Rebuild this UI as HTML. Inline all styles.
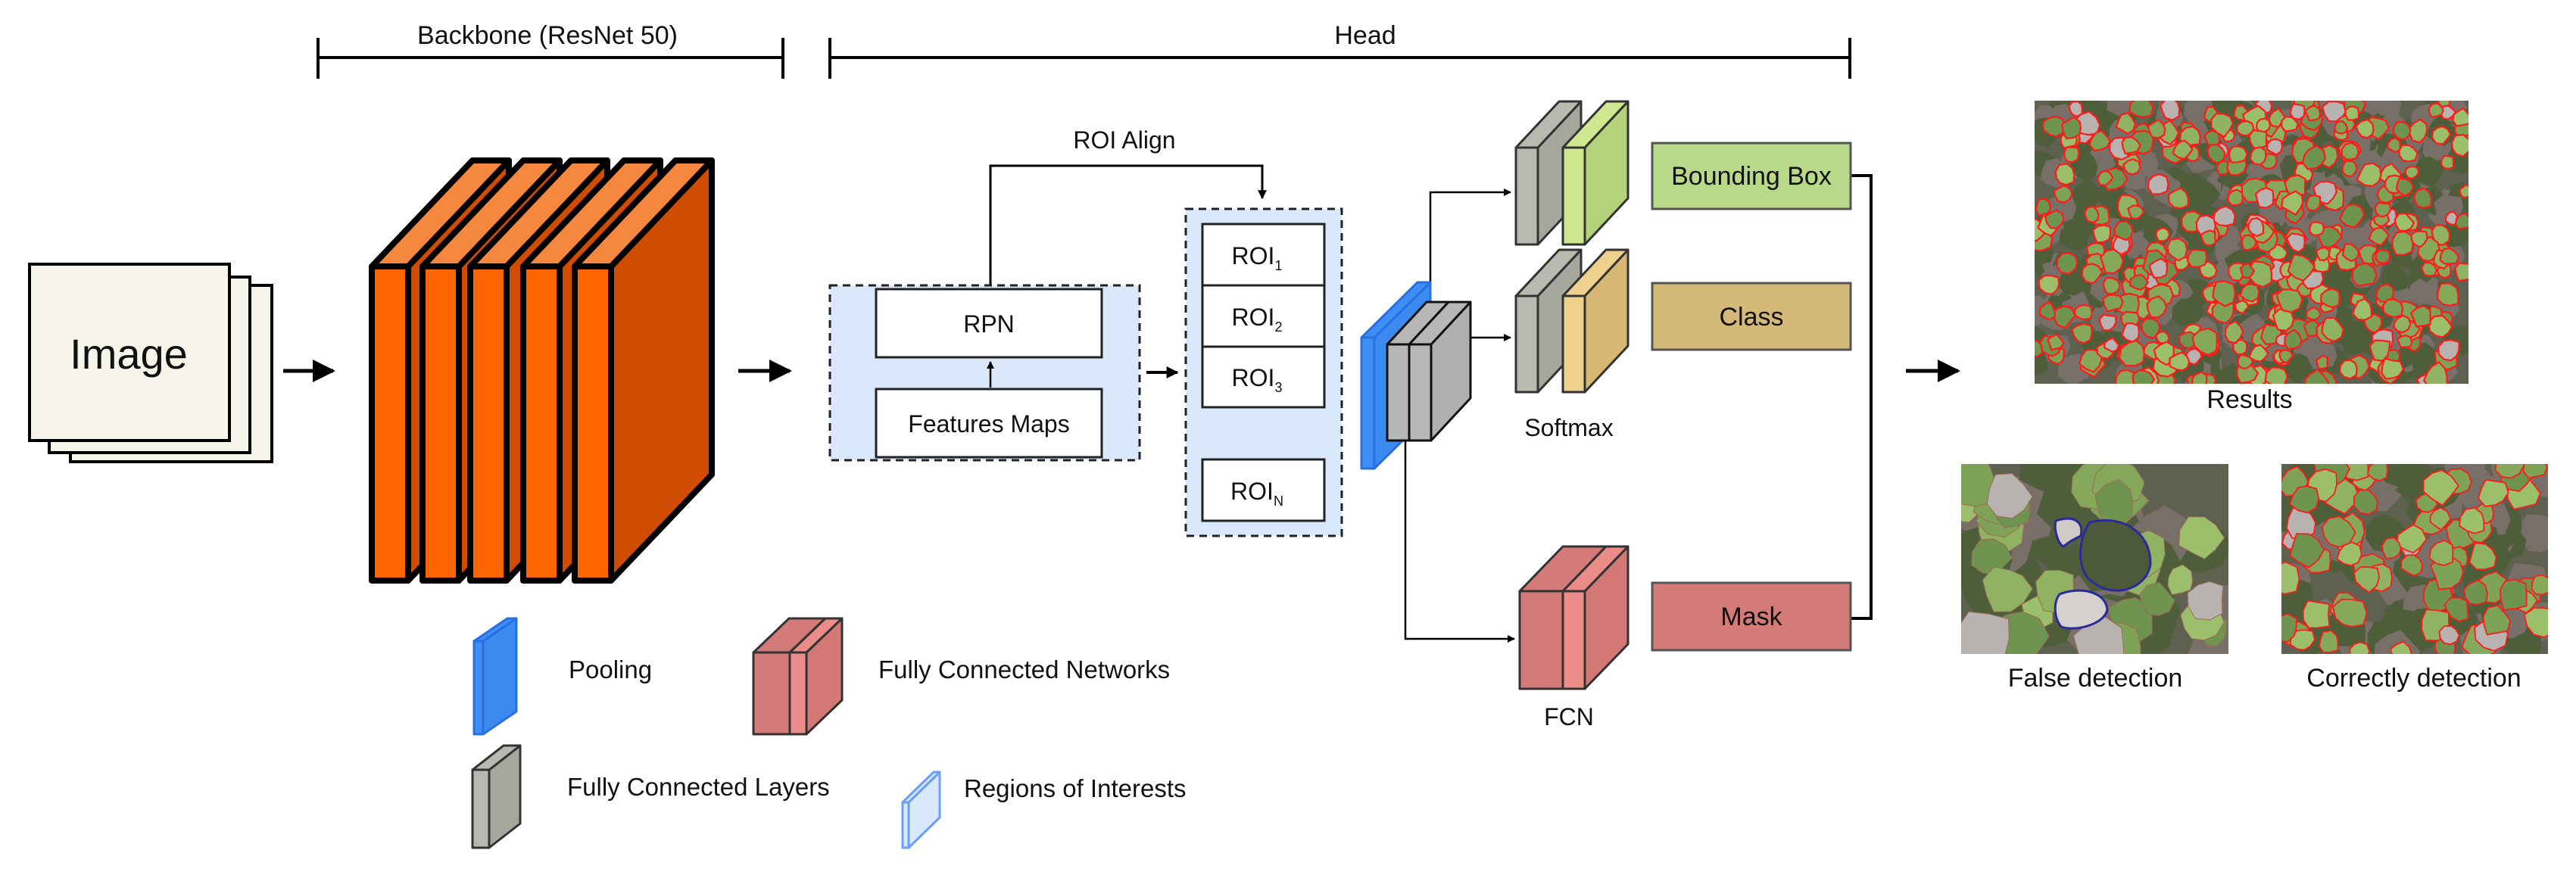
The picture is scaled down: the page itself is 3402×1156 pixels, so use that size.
<!DOCTYPE html>
<html><head><meta charset="utf-8"><style>
html,body{margin:0;padding:0;background:#fff;}
svg{display:block;}
text{font-family:"Liberation Sans",Arial,sans-serif;fill:#111;}
</style></head><body>
<svg id="s" width="3402" height="1156" viewBox="0 0 3402 1156" xmlns="http://www.w3.org/2000/svg">
<defs>
<marker id="ah" viewBox="0 0 10 10" refX="9" refY="5" markerWidth="4" markerHeight="4" orient="auto"><path d="M0,0 L10,5 L0,10 z" fill="#000"/></marker>
<marker id="as" viewBox="0 0 10 10" refX="9" refY="5" markerWidth="6" markerHeight="6" orient="auto"><path d="M0,0 L10,5 L0,10 z" fill="#000"/></marker>
<clipPath id="c1"><rect x="2687" y="133" width="573" height="374"/></clipPath>
<clipPath id="c2"><rect x="2590" y="613" width="353" height="251"/></clipPath>
<clipPath id="c3"><rect x="3013" y="613" width="352" height="251"/></clipPath>
</defs>

<g stroke="#000" stroke-width="4">
<line x1="420" y1="76" x2="1034" y2="76"/><line x1="420" y1="50" x2="420" y2="104"/><line x1="1034" y1="50" x2="1034" y2="104"/>
<line x1="1096" y1="76" x2="2443" y2="76"/><line x1="1096" y1="50" x2="1096" y2="104"/><line x1="2443" y1="50" x2="2443" y2="104"/>
</g>
<text x="723" y="58" font-size="34" text-anchor="middle">Backbone (ResNet 50)</text>
<text x="1803" y="58" font-size="34" text-anchor="middle">Head</text>

<g stroke="#000" stroke-width="4" fill="#f7f4ea">
<rect x="93" y="377" width="266" height="233"/>
<rect x="65" y="366" width="265" height="232"/>
<rect x="39" y="349" width="264" height="233"/>
</g>
<text x="170" y="487" font-size="56" text-anchor="middle">Image</text>

<g stroke="#000" stroke-width="5">
<line x1="374" y1="490" x2="440" y2="490" marker-end="url(#as)"/>
<line x1="975" y1="490" x2="1043" y2="490" marker-end="url(#as)"/>
<line x1="2517" y1="490" x2="2586" y2="490" marker-end="url(#as)"/>
</g>

<g id="orange" stroke="#000" stroke-width="8" stroke-linejoin="round"></g>

<rect x="1096" y="377" width="409" height="231" fill="#dae8fc" stroke="#222" stroke-width="3" stroke-dasharray="10,7"/>
<rect x="1157" y="382" width="298" height="90" fill="#fff" stroke="#222" stroke-width="3"/>
<rect x="1157" y="514" width="298" height="90" fill="#fff" stroke="#222" stroke-width="3"/>
<text x="1306" y="439" font-size="32" text-anchor="middle">RPN</text>
<text x="1306" y="571" font-size="32" text-anchor="middle">Features Maps</text>
<line x1="1308" y1="512" x2="1308" y2="478" stroke="#000" stroke-width="2.5" marker-end="url(#ah)"/>
<line x1="1514" y1="492" x2="1555" y2="492" stroke="#000" stroke-width="4" marker-end="url(#ah)"/>
<polyline points="1308,376 1308,219 1667,219 1667,262" fill="none" stroke="#000" stroke-width="3" marker-end="url(#ah)"/>
<text x="1485" y="196" font-size="32" text-anchor="middle">ROI Align</text>

<rect x="1566" y="276" width="206" height="432" fill="#dae8fc" stroke="#222" stroke-width="3" stroke-dasharray="10,7"/>
<g fill="#fff" stroke="#222" stroke-width="3">
<rect x="1588" y="296" width="161" height="242"/>
<line x1="1588" y1="377" x2="1749" y2="377"/><line x1="1588" y1="458" x2="1749" y2="458"/>
<rect x="1588" y="607" width="161" height="81"/>
</g>
<g font-size="32" text-anchor="middle">
<text x="1660" y="349">ROI<tspan font-size="18" dy="8">1</tspan></text>
<text x="1660" y="430">ROI<tspan font-size="18" dy="8">2</tspan></text>
<text x="1660" y="510">ROI<tspan font-size="18" dy="8">3</tspan></text>
<text x="1660" y="660">ROI<tspan font-size="18" dy="8">N</tspan></text>
</g>

<g stroke="#000" stroke-width="2.5" fill="none">
<polyline points="1889,372 1889,254 1995,254" marker-end="url(#ah)"/>
<line x1="1942" y1="446" x2="1995" y2="446" marker-end="url(#ah)"/>
<polyline points="1856,582 1856,844 2000,844" marker-end="url(#ah)"/>
<polyline points="2444,232 2471,232 2471,817 2444,817" stroke-width="4"/>
</g>

<g id="blocks"></g>

<rect x="2182" y="189" width="262" height="87" fill="#b9d98a" stroke="#555" stroke-width="3"/>
<rect x="2182" y="374" width="262" height="88" fill="#d5b978" stroke="#555" stroke-width="3"/>
<rect x="2182" y="770" width="262" height="89" fill="#d47a78" stroke="#555" stroke-width="3"/>
<g font-size="34" text-anchor="middle">
<text x="2313" y="244">Bounding Box</text>
<text x="2313" y="430">Class</text>
<text x="2313" y="826">Mask</text>
<text x="2072" y="576" font-size="32">Softmax</text>
<text x="2072" y="958" font-size="32">FCN</text>
</g>

<g font-size="33">
<text x="751" y="896">Pooling</text>
<text x="1160" y="896">Fully Connected Networks</text>
<text x="749" y="1051">Fully Connected Layers</text>
<text x="1273" y="1053">Regions of Interests</text>
</g>

<g clip-path="url(#c1)" id="p1"></g>
<g clip-path="url(#c2)" id="p2"></g>
<g clip-path="url(#c3)" id="p3"></g>
<g font-size="34" text-anchor="middle">
<text x="2971" y="539">Results</text>
<text x="2767" y="907">False detection</text>
<text x="3188" y="907">Correctly detection</text>
</g>
</svg>
<script>
var NS="http://www.w3.org/2000/svg";
function el(p,t,a){var e=document.createElementNS(NS,t);for(var k in a)e.setAttribute(k,a[k]);p.appendChild(e);return e;}
function slab(g,x,y,w,h,dx,dy,cf,ct,cs,st,sw){
 var o={stroke:st,"stroke-width":sw,"stroke-linejoin":"round"};
 function pg(pts,c){var a=Object.assign({points:pts,fill:c},o);el(g,"polygon",a);}
 pg([x+w,y,x+w+dx,y-dy,x+w+dx,y+h-dy,x+w,y+h].join(","),cs);
 pg([x,y,x+w,y,x+w+dx,y-dy,x+dx,y-dy].join(","),ct);
 pg([x,y,x+w,y,x+w,y+h,x,y+h].join(","),cf);
}
var og=document.getElementById("orange");
[491,558,621,691,759].forEach(function(x){slab(og,x,352,48,415,133,140,"#ff6600","#f5873e","#d04c00","#000",8);});
var b=document.getElementById("blocks");
slab(b,1798,446,17,173,74,73,"#3d8ef5","#3d8ef5","#3a8af0","#2a6fe0",3);
slab(b,1832,455,29,127,52,56,"#b7b7b7","#b7b7b7","#b0b0b0","#111",3);
slab(b,1861,455,29,127,52,56,"#b7b7b7","#b7b7b7","#b0b0b0","#111",3);
slab(b,2002,195,29,128,57,61,"#b8bab0","#b8bab0","#a5a79d","#333",3);
slab(b,2064,195,29,128,57,61,"#cde88f","#cde88f","#b3d37a","#333",3);
slab(b,2002,391,29,127,57,61,"#b8bab0","#b8bab0","#a5a79d","#333",3);
slab(b,2064,391,29,127,57,61,"#eed18c","#eed18c","#d6b872","#333",3);
slab(b,2007,781,57,129,57,59,"#d47a78","#d47a78","#d47a78","#333",3);
slab(b,2064,781,29,129,57,59,"#ec8c88","#ec8c88","#d47876","#333",3);
slab(b,626,847,12,123,44,30,"#3d8ef5","#3d8ef5","#3a8af0","#2a6fe0",3);
slab(b,624,1017,22,103,41,32,"#b8bab0","#b8bab0","#a5a79d","#333",3);
slab(b,995,862,48,108,47,45,"#d47a78","#d47a78","#d47a78","#333",3);
slab(b,1043,862,22,108,47,45,"#ec8c88","#ec8c88","#d47876","#333",3);
slab(b,1192,1060,8,60,41,40,"#dae8fc","#dae8fc","#dae8fc","#6c9ef8",3);
var seed=7;function r(){seed=(seed*16807)%2147483647;return seed/2147483647;}
function blob(g,cx,cy,rad,fill,stroke,sw){var n=9,p=[];for(var i=0;i<n;i++){var a=i/n*6.283,rr=rad*(0.8+0.35*r());p.push((cx+rr*Math.cos(a)).toFixed(1)+","+(cy+rr*Math.sin(a)).toFixed(1));}el(g,"polygon",{points:p.join(" "),fill:fill,stroke:stroke,"stroke-width":sw,"stroke-linejoin":"round"});}
var greens=["#7ea356","#8fb362","#9cbf6c","#6f9450","#86a85a"];
function photo(id,x,y,w,h,rad,red,sw,grayP){var g=document.getElementById(id);el(g,"rect",{x:x,y:y,width:w,height:h,fill:"#5e6050"});
 for(var i=0;i<w*h/(rad*rad*3);i++){blob(g,x+r()*w,y+r()*h,rad*1.4,r()<0.55?"#4e5e3a":"#787068","none",0);}
 var n=w*h/(rad*rad*3.2);for(var i=0;i<n;i++){var c=r()<1-grayP?greens[Math.floor(r()*5)]:"#b8b2b0";blob(g,x+r()*w,y+r()*h,rad*(0.6+0.6*r()),c,red,sw);}}
photo("p1",2687,133,573,374,14,"#ff1a1a",2.2,0.12);
photo("p2",2590,613,353,251,32,"#9a6a55",1,0.12);
photo("p3",3013,613,352,251,20,"#ff1a1a",1.8,0.15);
var g2=document.getElementById("p2");
el(g2,"path",{d:"M2715,688 C2740,680 2752,690 2748,708 C2738,712 2730,718 2725,722 C2718,718 2712,700 2715,688 Z",fill:"#cfc9c8",stroke:"#2a2a9a","stroke-width":3});
el(g2,"path",{d:"M2760,690 C2800,680 2840,700 2840,745 C2835,780 2790,790 2765,770 C2740,755 2745,710 2760,690 Z",fill:"#4c5a3a",stroke:"#2a2a9a","stroke-width":3});
el(g2,"path",{d:"M2720,785 C2745,775 2780,780 2783,805 C2780,825 2740,835 2722,828 C2712,815 2712,795 2720,785 Z",fill:"#d6d0cf",stroke:"#2a2a9a","stroke-width":3});
</script>
</body></html>
